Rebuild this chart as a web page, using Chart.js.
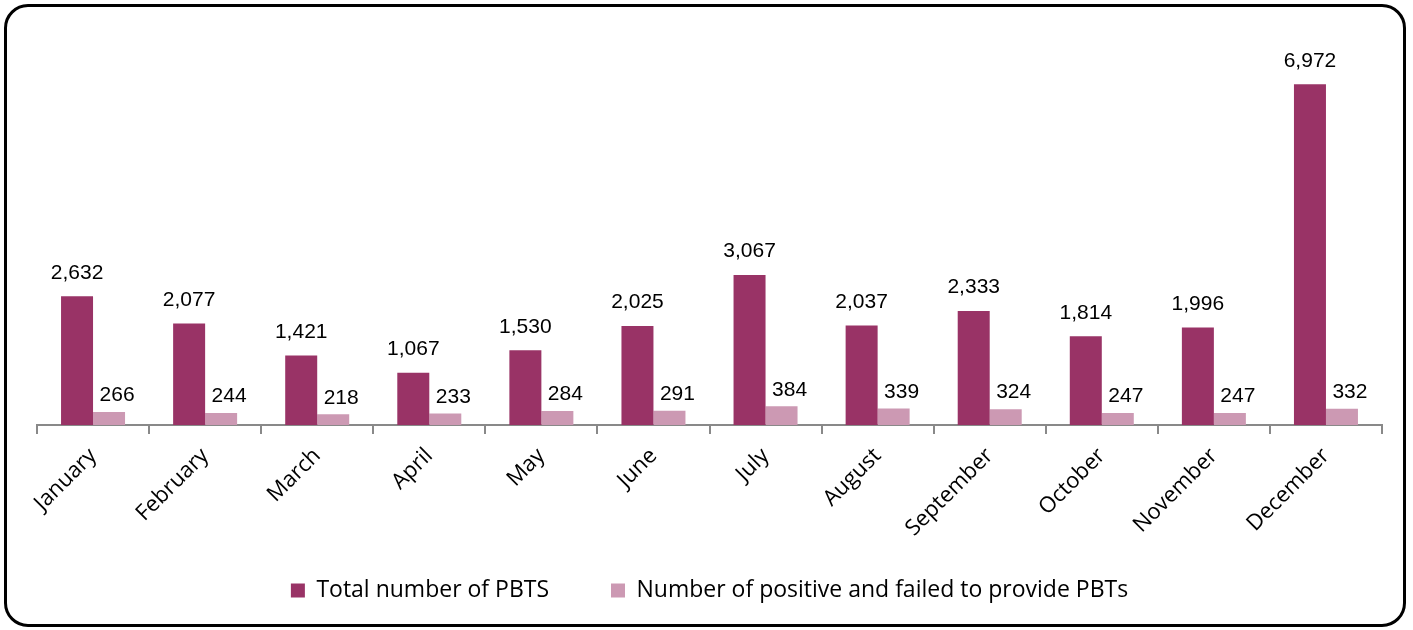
<!DOCTYPE html>
<html>
<head>
<meta charset="utf-8">
<script src="https://cdn.jsdelivr.net/npm/chart.js@4.4.1/dist/chart.umd.min.js"></script>
<style>
  body { margin: 0; background: #fff; }
  #frame {
    position: absolute; left: 4px; top: 4px; width: 1402px; height: 623px;
    box-sizing: border-box; border: 3px solid #000; border-radius: 24px;
  }
  #wrap { position: absolute; left: 0; top: 0; width: 1413px; height: 630px; }
</style>
</head>
<body>
<div id="frame"></div>
<div id="wrap"><canvas id="chart" width="1413" height="630"></canvas></div>
<script>
// month labels
const months = ["January", "February", "March", "April", "May", "June",
    "July", "August", "September", "October", "November", "December"];
// total PBTs per month
const totalPBT = [2632, 2077, 1421, 1067, 1530, 2025, 3067, 2037, 2333, 1814, 1996, 6972];
// positive + failed to provide
const positivePBT = [266, 244, 218, 233, 284, 291, 384, 339, 324, 247, 247, 332];
const seriesNames = ["Total number of PBTS", "Number of positive and failed to provide PBTs"];

const darkColor = "#993366";
const lightColor = "#cc99b3";

//draws the value above each bar
const valueLabels = {
    id: "valueLabels",
    afterDatasetsDraw(chart) {
        const ctx = chart.ctx;
        ctx.save();
        ctx.font = "21px 'Liberation Sans', Arial, sans-serif";
        ctx.fillStyle = "#000";
        ctx.textAlign = "center";
        ctx.textBaseline = "bottom";
        chart.data.datasets.forEach(function (ds, i) {
            const meta = chart.getDatasetMeta(i);
            meta.data.forEach(function (bar, j) {
                const txt = ds.data[j].toLocaleString("en-US");
                if (i == 0) {
                    ctx.fillText(txt, bar.x, bar.y - 13);
                } else {
                    ctx.fillText(txt, bar.x + 8, bar.y - 6);
                }
            });
        });
        ctx.restore();
    }
};

new Chart(document.getElementById("chart"), {
    type: "bar",
    data: {
        labels: months,
        datasets: [{
            label: seriesNames[0],
            data: totalPBT,
            backgroundColor: darkColor
        }, {
            label: seriesNames[1],
            data: positivePBT,
            backgroundColor: lightColor
        }]
    },
    options: {
        responsive: false,
        animation: false,
        layout: { padding: { left: 37, right: 31, top: 34, bottom: 18 } },
        datasets: { bar: { categoryPercentage: 0.571, barPercentage: 1.0 } },
        scales: {
            y: { display: false, min: 0, max: 8000 },
            x: {
                afterFit: function (scale) { scale.height = 144; },
                border: { color: "#898989", width: 2 },
                grid: { drawOnChartArea: false, drawTicks: true, tickLength: 9, color: "#898989", lineWidth: 2 },
                ticks: {
                    minRotation: 45, maxRotation: 45, padding: 9,
                    color: "#000",
                    font: { family: "'Open Sans', sans-serif", size: 22 }
                }
            }
        },
        plugins: {
            tooltip: { enabled: false },
            legend: {
                position: "bottom",
                labels: {
                    boxWidth: 14, boxHeight: 14, padding: 10,
                    color: "#000",
                    font: { family: "'Open Sans', sans-serif", size: 23 },
                    generateLabels: function (chart) {
                        return chart.data.datasets.map(function (ds, i) {
                            return {
                                text: i == 0 ? ds.label + "\u2003\u2003 " : ds.label,
                                fillStyle: ds.backgroundColor,
                                strokeStyle: ds.backgroundColor,
                                lineWidth: 0,
                                datasetIndex: i
                            };
                        });
                    }
                }
            }
        }
    },
    plugins: [valueLabels]
});
</script>
</body>
</html>
